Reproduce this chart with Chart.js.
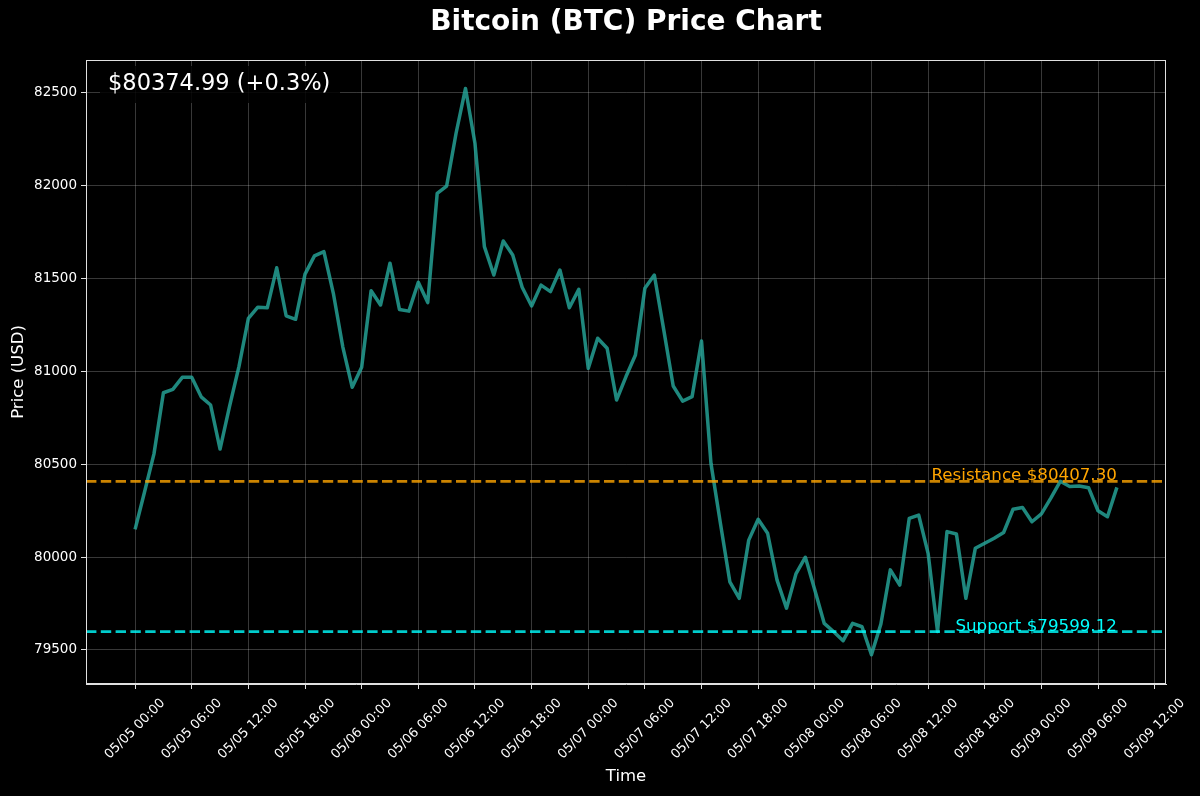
<!DOCTYPE html>
<html>
<head>
<meta charset="utf-8">
<script src="https://cdn.jsdelivr.net/npm/chart.js@4.4.0/dist/chart.umd.min.js"></script>
<style>
  html, body { margin: 0; padding: 0; background: #000; }
</style>
</head>
<body>
<canvas id="priceChart" width="1200" height="796"></canvas>
<script>
// hourly closes, 05/05 00:00 -> 05/09 08:00
const prices = [
  80149, 80350, 80555, 80884, 80902, 80967, 80967, 80862, 80818, 80581,
  80809, 81024, 81284, 81344, 81341, 81556, 81298, 81279, 81522, 81620,
  81643, 81419, 81131, 80913, 81021, 81433, 81356, 81581, 81332, 81323,
  81478, 81369, 81956, 81996, 82280, 82521, 82226, 81670, 81517, 81700,
  81625, 81451, 81351, 81463, 81428, 81544, 81341, 81440, 81015, 81177,
  81123, 80845, 80971, 81087, 81446, 81517, 81222, 80920, 80839, 80863,
  81162, 80504, 80182, 79867, 79778, 80091, 80203, 80128, 79876, 79725,
  79909, 79999, 79823, 79643, 79598, 79550, 79643, 79625, 79474, 79640,
  79931, 79849, 80208, 80226, 80020, 79599.12, 80137, 80124, 79778, 80047,
  80074, 80101, 80132, 80257, 80267, 80190, 80232, 80317, 80407.30, 80379,
  80382, 80373, 80249, 80217, 80374.99
];
const hours = prices.map((_, i) => i); // x = hours since 05/05 00:00

const xTickHours = [0, 6, 12, 18, 24, 30, 36, 42, 48, 54, 60, 66, 72, 78, 84, 90, 96, 102, 108];
const xTickLabels = [
  '05/05 00:00', '05/05 06:00', '05/05 12:00', '05/05 18:00',
  '05/06 00:00', '05/06 06:00', '05/06 12:00', '05/06 18:00',
  '05/07 00:00', '05/07 06:00', '05/07 12:00', '05/07 18:00',
  '05/08 00:00', '05/08 06:00', '05/08 12:00', '05/08 18:00',
  '05/09 00:00', '05/09 06:00', '05/09 12:00'
];
const yTicks = [79500, 80000, 80500, 81000, 81500, 82000, 82500];

const resistance = 80407.30;
const support = 79599.12;
const xMin = -5.2, xMax = 109.2;
const yMin = 79317, yMax = 82674;

const lastPrice = prices[prices.length - 1];
const pctChange = (lastPrice - prices[0]) / prices[0] * 100;

Chart.defaults.font.family = "'DejaVu Sans', sans-serif";
Chart.defaults.color = '#ffffff';

const gridColor = 'rgba(255,255,255,0.22)';

const decor = {
  id: 'decor',
  beforeDraw(chart) {
    const c = chart.ctx;
    c.save();
    c.fillStyle = '#000';
    c.fillRect(0, 0, chart.width, chart.height);
    c.restore();
  },
  afterDraw(chart) {
    const c = chart.ctx;
    const a = chart.chartArea;
    const xs = chart.scales.x, ys = chart.scales.y;
    c.save();
    // frame
    c.strokeStyle = '#e0e0e0';
    c.lineWidth = 1;
    c.strokeRect(a.left + 0.5, a.top + 0.5, a.right - a.left - 1, a.bottom - a.top - 1);

    // x tick labels, rotated 45deg and centred under the tick (matplotlib style)
    c.fillStyle = '#ffffff';
    c.font = "13px 'DejaVu Sans'";
    c.textAlign = 'center';
    c.textBaseline = 'middle';
    xTickHours.forEach((h, i) => {
      c.save();
      c.translate(xs.getPixelForValue(h), a.bottom + 45);
      c.rotate(-Math.PI / 4);
      c.fillText(xTickLabels[i], 0, 0);
      c.restore();
    });

    // title
    c.font = "bold 28px 'DejaVu Sans'";
    c.fillText('Bitcoin (BTC) Price Chart', (a.left + a.right) / 2, 23);

    // current price box
    c.fillStyle = 'rgba(0,0,0,0.85)';
    c.fillRect(100, 66, 240, 37);
    c.fillStyle = '#ffffff';
    c.font = "22.5px 'DejaVu Sans'";
    c.textAlign = 'left';
    c.fillText('$' + lastPrice.toFixed(2) + ' (' + (pctChange >= 0 ? '+' : '') + pctChange.toFixed(1) + '%)', 108, 84);

    // level labels
    const xr = xs.getPixelForValue(hours[hours.length - 1]);
    c.font = "16.7px 'DejaVu Sans'";
    c.textAlign = 'right';
    c.textBaseline = 'bottom';
    c.fillStyle = '#ffa500';
    c.fillText('Resistance $' + resistance.toFixed(2), xr, ys.getPixelForValue(resistance) + 3);
    c.fillStyle = '#00ffff';
    c.fillText('Support $' + support.toFixed(2), xr, ys.getPixelForValue(support) + 3);
    c.restore();
  }
};

new Chart(document.getElementById('priceChart'), {
  type: 'line',
  data: {
    datasets: [
      {
        data: hours.map((h, i) => ({ x: h, y: prices[i] })),
        borderColor: 'rgba(38,166,154,0.82)',
        borderWidth: 3.5,
        pointRadius: 0,
        tension: 0,
        fill: false,
        borderJoinStyle: 'round',
        order: 2
      },
      {
        data: [{ x: xMin, y: resistance }, { x: xMax, y: resistance }],
        borderColor: 'rgba(255,165,0,0.8)',
        borderWidth: 2.8,
        borderDash: [10.4, 4.4],
        pointRadius: 0,
        fill: false,
        order: 1
      },
      {
        data: [{ x: xMin, y: support }, { x: xMax, y: support }],
        borderColor: 'rgba(0,255,255,0.8)',
        borderWidth: 2.8,
        borderDash: [10.4, 4.4],
        pointRadius: 0,
        fill: false,
        order: 0
      }
    ]
  },
  options: {
    responsive: false,
    animation: false,
    devicePixelRatio: 1,
    layout: { padding: { top: 60, right: 34, left: 0, bottom: 0 } },
    plugins: { legend: { display: false }, tooltip: { enabled: false }, title: { display: false } },
    scales: {
      x: {
        type: 'linear',
        min: xMin,
        max: xMax,
        afterBuildTicks: s => { s.ticks = xTickHours.map(v => ({ value: v })); },
        afterFit: s => { s.height = 112; },
        grid: { color: gridColor, tickColor: '#e0e0e0', tickLength: 5, lineWidth: 1 },
        border: { color: '#e0e0e0' },
        ticks: {
          autoSkip: false,
          color: 'rgba(0,0,0,0)',
          font: { size: 13 },
          callback: (v, i) => xTickLabels[i]
        },
        title: { display: true, text: 'Time', color: '#ffffff', font: { size: 16.5 }, padding: { top: 0, bottom: 9 } }
      },
      y: {
        type: 'linear',
        min: yMin,
        max: yMax,
        afterBuildTicks: s => { s.ticks = yTicks.map(v => ({ value: v })); },
        afterFit: s => { s.width = 86; },
        grid: { color: gridColor, tickColor: '#e0e0e0', tickLength: 5, lineWidth: 1 },
        border: { color: '#e0e0e0' },
        ticks: {
          padding: 4,
          color: '#ffffff',
          font: { size: 13.5 },
          callback: v => String(v)
        },
        title: { display: true, text: 'Price (USD)', color: '#ffffff', font: { size: 16.5 }, padding: { top: 9, bottom: 0 } }
      }
    }
  },
  plugins: [decor]
});
</script>
</body>
</html>
